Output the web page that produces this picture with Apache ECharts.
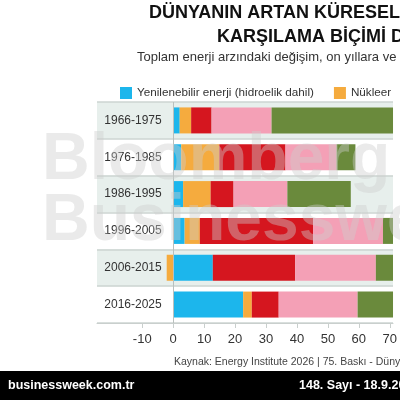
<!DOCTYPE html>
<html>
<head>
<meta charset="utf-8">
<script src="https://cdn.jsdelivr.net/npm/echarts@6/dist/echarts.min.js"></script>
<style>
  html, body { margin: 0; padding: 0; background: #fff; }
  #chart { width: 400px; height: 400px; }
</style>
</head>
<body>
<div id="chart"></div>
<script>
// dönemler
const categories = ['1966-1975', '1976-1985', '1986-1995', '1996-2005', '2006-2015', '2016-2025'];
// enerji kaynaklarına göre değişim
const renewables = [2.1, 2.6, 3.2, 3.7, 12.8, 22.6];
const nuclear = [3.7, 12.3, 8.9, 4.9, -2.1, 2.8];
const coal = [6.6, 21.4, 7.4, 36.6, 26.6, 8.7];
const gas = [19.4, 16.5, 17.4, 22.6, 26.1, 25.5];
const oil = [45, 6.1, 20.5, 15, 10, 12];
const seriesNames = ['Yenilenebilir enerji (hidroelik dahil)', 'Nükleer', 'Kömür', 'Doğal gaz', 'Petrol'];
const tickValues = [-10, 0, 10, 20, 30, 40, 50, 60, 70];

const colors = ['#1cb6ec', '#f5ab3e', '#d5161f', '#f4a0b6', '#6a8a3c'];
const font = '"Liberation Sans", Arial, sans-serif';

const chart = echarts.init(document.getElementById('chart'));

function barSeries(name, data, idx) {
  const s = {
    name: name,
    type: 'bar',
    stack: 'total',
    barWidth: 26,
    data: data,
    itemStyle: { color: colors[idx] },
    z: 2
  };
  if (idx === 0) {
    // sıfır çizgisi
    s.markLine = {
      silent: true,
      symbol: 'none',
      label: { show: false },
      lineStyle: { color: '#b9c0be', width: 1, type: 'solid' },
      data: [{ xAxis: 0 }]
    };
  }
  return s;
}

const option = {
  animation: false,
  textStyle: { fontFamily: font },
  legend: {
    left: 115,
    top: 82,
    width: 900,
    icon: 'rect',
    itemWidth: 12,
    itemHeight: 12,
    itemGap: 20,
    textStyle: { fontSize: 11.7, color: '#333', fontFamily: font },
    data: seriesNames
  },
  grid: {
    left: 97,
    right: 0,
    top: 102,
    bottom: 77
  },
  xAxis: {
    type: 'value',
    min: -24.63,
    max: 71.05,
    axisLine: { show: true, lineStyle: { color: '#c9cfcd' } },
    axisTick: { show: true, length: 5, lineStyle: { color: '#c9cfcd' }, customValues: tickValues },
    axisLabel: { color: '#333', fontSize: 13, margin: 10, customValues: tickValues },
    splitLine: { show: false }
  },
  yAxis: {
    type: 'category',
    inverse: true,
    data: categories,
    axisLine: { show: false },
    axisTick: { show: false },
    axisLabel: {
      inside: true,
      align: 'center',
      margin: 36,
      color: '#333',
      fontSize: 12
    },
    splitLine: { show: true, lineStyle: { color: '#cdd4d2', width: 1.5 } },
    splitArea: { show: true, areaStyle: { color: ['#e7efec', 'rgba(255,255,255,0)'] } }
  },
  series: [
    barSeries(seriesNames[0], renewables, 0),
    barSeries(seriesNames[1], nuclear, 1),
    barSeries(seriesNames[2], coal, 2),
    barSeries(seriesNames[3], gas, 3),
    barSeries(seriesNames[4], oil, 4)
  ],
  graphic: [
    {
      type: 'text', left: 149, top: 4, z: 10,
      style: { text: 'DÜNYANIN ARTAN KÜRESEL ENERJİ TALEBİNİ', font: 'bold 18px ' + font, fill: '#111' }
    },
    {
      type: 'text', left: 217, top: 28, z: 10,
      style: { text: 'KARŞILAMA BİÇİMİ DEĞİŞİYOR', font: 'bold 18px ' + font, fill: '#111' }
    },
    {
      type: 'text', left: 137, top: 51, z: 10,
      style: { text: 'Toplam enerji arzındaki değişim, on yıllara ve kaynaklara göre', font: '13px ' + font, fill: '#333' }
    },
    // filigran
    {
      type: 'text', left: 42, top: 128, z: 20, silent: true,
      style: { text: 'Bloomberg', font: '900 66px ' + font, fill: 'rgba(205,205,205,0.42)' }
    },
    {
      type: 'text', left: 42, top: 189, z: 20, silent: true,
      style: { text: 'Businessweek', font: '900 66px ' + font, fill: 'rgba(205,205,205,0.42)' }
    },
    {
      type: 'text', left: 174, top: 357, z: 10,
      style: { text: 'Kaynak: Energy Institute 2026 | 75. Baskı - Dünya Enerji İstatistikleri', font: '10.5px ' + font, fill: '#444' }
    },
    {
      type: 'rect', left: 0, top: 371, z: 10,
      shape: { width: 400, height: 29 },
      style: { fill: '#000' }
    },
    {
      type: 'text', left: 8, top: 379, z: 11,
      style: { text: 'businessweek.com.tr', font: 'bold 12.5px ' + font, fill: '#fff' }
    },
    {
      type: 'text', left: 299, top: 379, z: 11,
      style: { text: '148. Sayı - 18.9.2026', font: 'bold 12.5px ' + font, fill: '#fff' }
    }
  ]
};

chart.setOption(option);
</script>
</body>
</html>
